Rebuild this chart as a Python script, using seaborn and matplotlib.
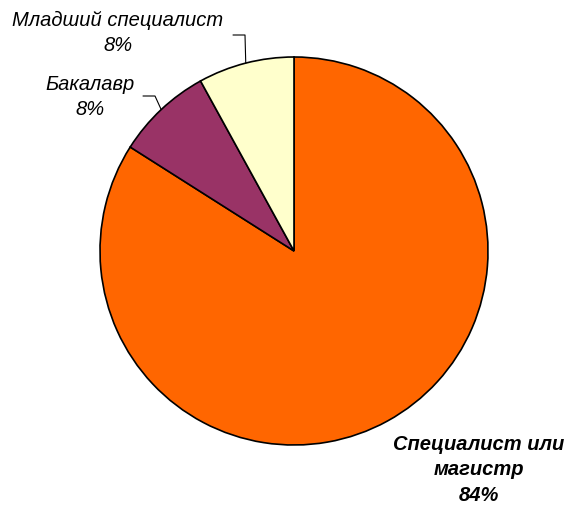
"""
Pie chart of graduate degree levels.
"""
import matplotlib
matplotlib.use('Agg')
import matplotlib.pyplot as plt
import seaborn as sns
import numpy as np

# Data
categories = ["Специалист или магистр", "Бакалавр", "Младший специалист"]
shares = [84, 8, 8]
colors = ["#FF6600", "#993366", "#FFFFCC"]

sns.set_style("white")
plt.rcParams['font.family'] = ['Liberation Sans', 'DejaVu Sans']

W, H = 571, 510
fig = plt.figure(figsize=(W / 100, H / 100), dpi=100)
ax = fig.add_axes([0, 0, 1, 1])

cx, cy, r = 294, H - 252, 194
wedges, _ = ax.pie(shares, colors=colors, startangle=90, counterclock=False,
                   center=(cx, cy), radius=r, frame=True,
                   wedgeprops=dict(edgecolor="black", linewidth=1.2))
ax.set_xlim(0, W)
ax.set_ylim(0, H)
ax.axis('off')

def arc_point(w, rr=1.0):
    ang = np.deg2rad((w.theta1 + w.theta2) / 2)
    return cx + r * rr * np.cos(ang), cy + r * rr * np.sin(ang)

# label layout: (text centre x, text block centre y, elbow, line end, bold)
layout = [
    (479, H - 470, None, None, True),
    (90, H - 97, (155, H - 97), (143, H - 97), False),
    (118, H - 33, (245, H - 36), (233, H - 36), False),
]

for w, name, val, (tx, ty, elbow, end, bold) in zip(wedges, categories, shares, layout):
    if name == "Специалист или магистр":
        txt = "Специалист или\nмагистр\n" + f"{val}%"
    else:
        txt = f"{name}\n{val}%"
    ax.text(tx, ty, txt, ha="center", va="center", color="black",
            fontsize=14.5, style="italic", fontweight="bold" if bold else "normal",
            linespacing=1.42)
    if elbow is not None:
        px, py = arc_point(w)
        ax.plot([px, elbow[0], end[0]], [py, elbow[1], end[1]],
                color="black", linewidth=0.8)

fig.savefig("out.png", dpi=100)
plt.close(fig)
